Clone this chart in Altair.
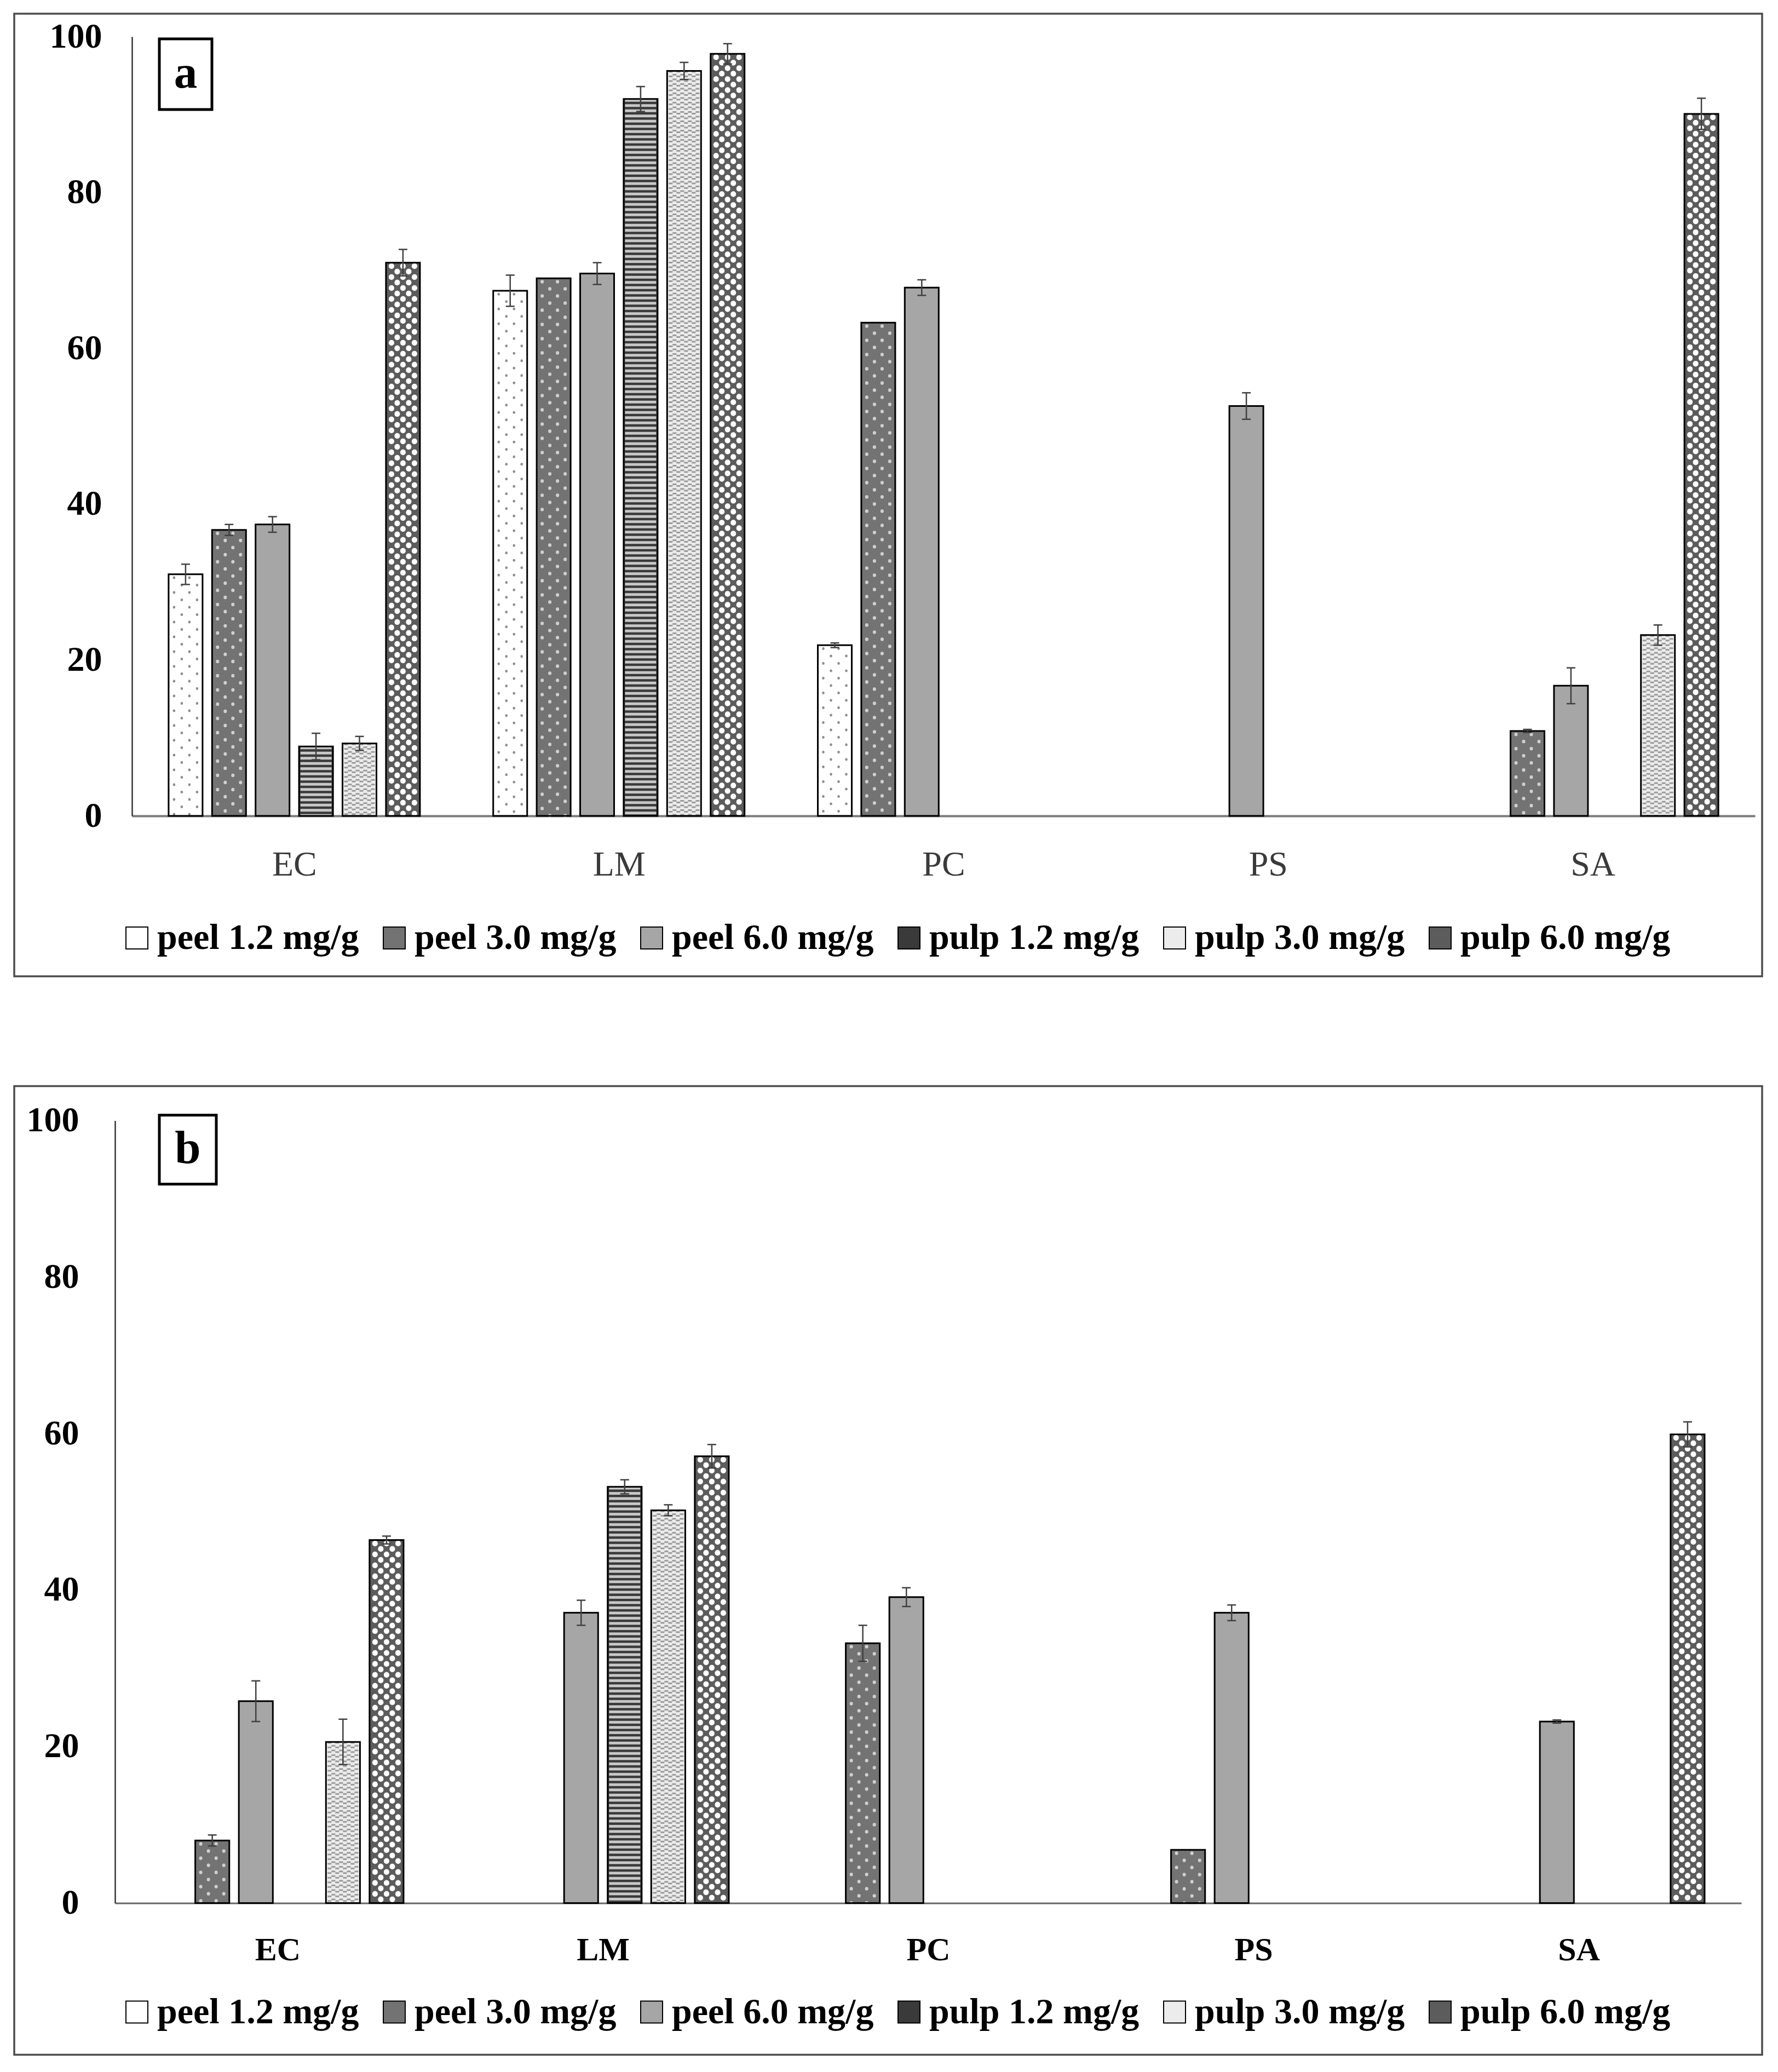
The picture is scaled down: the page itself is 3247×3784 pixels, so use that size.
import altair as alt
import pandas as pd

FONT = "Liberation Serif"

categories = ["EC", "LM", "PC", "PS", "SA"]
series = ["peel 1.2 mg/g", "peel 3.0 mg/g", "peel 6.0 mg/g",
          "pulp 1.2 mg/g", "pulp 3.0 mg/g", "pulp 6.0 mg/g"]

# ---- panel a (values for EC, LM, PC, PS, SA) ----
a_peel_12 = [31.0, 67.4, 21.9, 0.0, 0.0]
a_peel_30 = [36.7, 69.0, 63.3, 0.0, 10.9]
a_peel_60 = [37.4, 69.6, 67.8, 52.6, 16.7]
a_pulp_12 = [8.9, 92.0, 0.0, 0.0, 0.0]
a_pulp_30 = [9.3, 95.6, 0.0, 0.0, 23.2]
a_pulp_60 = [71.0, 97.8, 0.0, 0.0, 90.1]

a_err_peel_12 = [1.3, 2.0, 0.3, 0.0, 0.0]
a_err_peel_30 = [0.7, 0.0, 0.0, 0.0, 0.2]
a_err_peel_60 = [1.0, 1.4, 1.0, 1.7, 2.3]
a_err_pulp_12 = [1.7, 1.6, 0.0, 0.0, 0.0]
a_err_pulp_30 = [0.9, 1.1, 0.0, 0.0, 1.3]
a_err_pulp_60 = [1.7, 1.3, 0.0, 0.0, 2.0]

# ---- panel b ----
b_peel_12 = [0.0, 0.0, 0.0, 0.0, 0.0]
b_peel_30 = [8.0, 0.0, 33.2, 6.8, 0.0]
b_peel_60 = [25.8, 37.1, 39.1, 37.1, 23.2]
b_pulp_12 = [0.0, 53.2, 0.0, 0.0, 0.0]
b_pulp_30 = [20.6, 50.2, 0.0, 0.0, 0.0]
b_pulp_60 = [46.4, 57.1, 0.0, 0.0, 59.9]

b_err_peel_12 = [0.0, 0.0, 0.0, 0.0, 0.0]
b_err_peel_30 = [0.7, 0.0, 2.3, 0.0, 0.0]
b_err_peel_60 = [2.6, 1.6, 1.2, 1.0, 0.2]
b_err_pulp_12 = [0.0, 0.9, 0.0, 0.0, 0.0]
b_err_pulp_30 = [2.9, 0.7, 0.0, 0.0, 0.0]
b_err_pulp_60 = [0.5, 1.5, 0.0, 0.0, 1.6]

y_ticks = [0, 20, 40, 60, 80, 100]

# ---- layout / style ----
PLOT_W = 2964
UNIT = PLOT_W / len(categories)        # pixels per category
BAR_STEP = 79.4 / UNIT
BAR_HALF = 31.0 / UNIT
CAP = 8.0 / UNIT

base_fills = ["#ffffff", "#737373", "#a6a6a6", "#3a3a3a", "#ececec", "#5c5c5c"]

# pattern overlays: (colour, width, dash, dashoffset, cap, column offsets in px)
PATTERNS = {
    "peel 1.2 mg/g": [("#8c8c8c", 4.5, [0.5, 26.5], 21, "round", [-21, 7]),
                      ("#8c8c8c", 4.5, [0.5, 26.5], 7.5, "round", [-7, 21])],
    "peel 3.0 mg/g": [("#d0d0d0", 6, [0.5, 25.5], 20, "round", [-21, 7]),
                      ("#d0d0d0", 6, [0.5, 25.5], 7, "round", [-7, 21])],
    "pulp 1.2 mg/g": [("#c8c8c8", 57, [5, 4.5], 0, "butt", [0])],
    "pulp 3.0 mg/g": [("#9a9a9a", 7, [3, 5.5], 0, "butt", [-24.5, -10.5, 3.5, 17.5]),
                      ("#9a9a9a", 7, [3, 5.5], 3, "butt", [-17.5, -3.5, 10.5, 24.5])],
    "pulp 6.0 mg/g": [("#ffffff", 10, [0.5, 19.5], 14, "round", [-21, 0, 21]),
                      ("#ffffff", 10, [0.5, 19.5], 4, "round", [-10.5, 10.5])],
}

label_expr = "[" + ",".join("'%s'" % c for c in categories) + "][floor(datum.value)]"


def build(vals, errs):
    rows = []
    for si, s in enumerate(series):
        for ci, c in enumerate(categories):
            v = vals[si][ci]
            e = errs[si][ci]
            xc = ci + 0.5 + (si - 2.5) * BAR_STEP
            rows.append(dict(series=s, cat=c, value=v, err=e, xc=xc,
                             x0=xc - BAR_HALF, x1=xc + BAR_HALF,
                             lo=v - e, hi=v + e, cl=xc - CAP, cr=xc + CAP, zero=0.0))
    return pd.DataFrame(rows)


def panel(df, label, cfg):
    x_scale = alt.Scale(domain=[0, len(categories)], range=cfg["xrange"], nice=False, zero=False)
    y_scale = alt.Scale(domain=[0, 100], nice=False)
    x_axis = alt.Axis(orient="bottom", values=[i + 0.5 for i in range(len(categories))],
                      labelExpr=label_expr, title=None, ticks=False, tickSize=0, grid=False,
                      domain=True, domainColor=cfg["xdomain_color"], domainWidth=cfg["xdomain_width"],
                      labelFont=FONT, labelFontSize=cfg["xlabel_size"],
                      labelFontWeight=cfg["xlabel_weight"], labelColor=cfg["xlabel_color"],
                      labelPadding=cfg["xlabel_pad"], labelOverlap=False, labelFlush=False,
                      labels=True)
    y_axis = alt.Axis(orient="left", values=y_ticks, title=None, ticks=False, tickSize=0, grid=False,
                      domain=True, domainColor="#333333", domainWidth=2.5,
                      labelFont=FONT, labelFontSize=64, labelFontWeight="bold",
                      labelColor="black", labelPadding=cfg["ylabel_pad"],
                      offset=cfg["yoffset"], labelOverlap=False, labelFlush=False, labels=True)
    legend = alt.Legend(orient="none", legendX=cfg["legend_x"], legendY=cfg["legend_y"],
                        direction="horizontal", columns=6, title=None,
                        labelFont=FONT, labelFontSize=66, labelFontWeight="bold",
                        labelColor="black", symbolType="square", symbolSize=1600,
                        symbolStrokeColor="black", symbolStrokeWidth=2,
                        labelOffset=4, columnPadding=31, labelLimit=0, padding=0,
                        gridAlign="each")

    bars = df[df.value > 0]
    errs = bars[bars.err > 0]
    one = pd.DataFrame({"k": [0]})

    layers = []
    layers.append(alt.Chart(bars).mark_bar(strokeWidth=0).encode(
        x=alt.X("x0:Q", scale=x_scale, axis=x_axis),
        x2="x1:Q",
        y=alt.Y("value:Q", scale=y_scale, axis=y_axis),
        y2="zero:Q",
        color=alt.Color("series:N", scale=alt.Scale(domain=series, range=base_fills), legend=legend),
    ))

    layers.append(alt.Chart(one).mark_rect(fill="transparent", stroke="#4d4d4d", strokeWidth=3.5).encode(
        x=alt.value(-215), x2=alt.value(2977), y=alt.value(cfg["frame_y0"]), y2=alt.value(cfg["frame_y1"])))

    for s, specs in PATTERNS.items():
        sub = bars[bars.series == s]
        if sub.empty:
            continue
        for (col, w, dash, doff, cap, offs) in specs:
            prow = []
            for _, r in sub.iterrows():
                for o in offs:
                    prow.append(dict(px=r.xc + o / UNIT, value=r.value, zero=0.0))
            pdf = pd.DataFrame(prow)
            layers.append(alt.Chart(pdf).mark_rule(color=col, strokeWidth=w, strokeDash=dash,
                                                    strokeDashOffset=doff, strokeCap=cap).encode(
                x=alt.X("px:Q"), y=alt.Y("value:Q"), y2="zero:Q"))

    layers.append(alt.Chart(bars).mark_bar(fill="transparent", stroke="black", strokeWidth=3).encode(
        x=alt.X("x0:Q"), x2="x1:Q", y=alt.Y("value:Q"), y2="zero:Q"))

    layers.append(alt.Chart(errs).mark_rule(color="#404040", strokeWidth=2.5).encode(
        x=alt.X("xc:Q"), y=alt.Y("lo:Q"), y2="hi:Q"))
    layers.append(alt.Chart(errs).mark_rule(color="#404040", strokeWidth=2.5).encode(
        x=alt.X("cl:Q"), x2="cr:Q", y=alt.Y("hi:Q")))
    layers.append(alt.Chart(errs).mark_rule(color="#404040", strokeWidth=2.5).encode(
        x=alt.X("cl:Q"), x2="cr:Q", y=alt.Y("lo:Q")))

    bx0, bx1, by0, by1 = cfg["box"]
    layers.append(alt.Chart(one).mark_rect(fill="white", stroke="black", strokeWidth=5).encode(
        x=alt.value(bx0), x2=alt.value(bx1), y=alt.value(by0), y2=alt.value(by1)))
    layers.append(alt.Chart(one).mark_text(text=label, font=FONT, fontSize=85, fontWeight="bold",
                                           align="center", baseline="middle", color="black").encode(
        x=alt.value((bx0 + bx1) / 2), y=alt.value((by0 + by1) / 2 - 2)))

    return alt.layer(*layers).properties(width=PLOT_W, height=cfg["height"])


df_a = build([a_peel_12, a_peel_30, a_peel_60, a_pulp_12, a_pulp_30, a_pulp_60],
             [a_err_peel_12, a_err_peel_30, a_err_peel_60, a_err_pulp_12, a_err_pulp_30, a_err_pulp_60])
df_b = build([b_peel_12, b_peel_30, b_peel_60, b_pulp_12, b_pulp_30, b_pulp_60],
             [b_err_peel_12, b_err_peel_30, b_err_peel_60, b_err_pulp_12, b_err_pulp_30, b_err_pulp_60])

cfg_a = dict(xrange=[0, PLOT_W], height=1423, yoffset=0, ylabel_pad=55,
             xdomain_color="#7a7a7a", xdomain_width=4, xlabel_size=64,
             xlabel_weight="normal", xlabel_color="#3a3a3a", xlabel_pad=57,
             legend_x=-24, legend_y=1613, frame_y0=-42, frame_y1=1716,
             box=(50, 146, 4, 133))
cfg_b = dict(xrange=[-31, PLOT_W - 25], height=1429, yoffset=31, ylabel_pad=66,
             xdomain_color="#666666", xdomain_width=3, xlabel_size=60,
             xlabel_weight="bold", xlabel_color="black", xlabel_pad=57,
             legend_x=-24, legend_y=1595, frame_y0=-63, frame_y1=1706,
             box=(50, 154, -10, 116))

chart = alt.vconcat(panel(df_a, "a", cfg_a), panel(df_b, "b", cfg_b), spacing=196.5).resolve_scale(
    color="independent", x="independent", y="independent").resolve_legend(color="independent").properties(
    padding={"left": 16, "top": 15, "right": 8, "bottom": 8})

chart = chart.configure(font=FONT, background="white").configure_view(stroke="transparent", strokeWidth=0)

chart.save("out.html", embed_options={"renderer": "svg", "actions": False})
